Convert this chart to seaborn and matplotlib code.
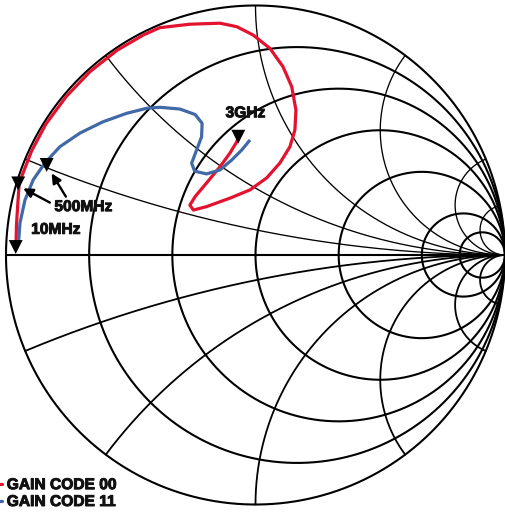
import numpy as np
import pandas as pd
import matplotlib
matplotlib.use("Agg")
import matplotlib.pyplot as plt
from matplotlib.lines import Line2D
import matplotlib.patheffects as pe
import seaborn as sns

# ---------------- data (reflection coefficient, real / imaginary) ----------------
R_VALUES = [0.2, 0.5, 1, 2, 5, 10]     # constant-resistance circles
X_VALUES = [0.2, 0.5, 1, 2, 5, 10]     # constant-reactance arcs

red_re = [-0.960, -0.958, -0.953, -0.947, -0.897, -0.840, -0.758, -0.662, -0.554,
          -0.449, -0.384, -0.263, -0.142, -0.075, -0.010, 0.058, 0.110, 0.145,
          0.162, 0.158, 0.138, 0.098, 0.045, -0.022, -0.102, -0.196, -0.249,
          -0.263, -0.242, -0.196, -0.142, -0.102, -0.075, -0.068]
red_im = [0.030, 0.120, 0.200, 0.289, 0.418, 0.525, 0.636, 0.736, 0.821,
          0.882, 0.911, 0.925, 0.929, 0.915, 0.882, 0.828, 0.755, 0.675,
          0.581, 0.501, 0.434, 0.369, 0.309, 0.261, 0.228, 0.194, 0.180,
          0.200, 0.234, 0.289, 0.354, 0.409, 0.454, 0.475]

blue_re = [-0.950, -0.944, -0.924, -0.891, -0.844, -0.784, -0.703, -0.611, -0.516,
           -0.436, -0.383, -0.303, -0.242, -0.214, -0.216, -0.236, -0.256, -0.244,
           -0.196, -0.142, -0.095, -0.055, -0.022]
blue_im = [0.045, 0.128, 0.220, 0.301, 0.369, 0.434, 0.489, 0.534, 0.568,
           0.588, 0.592, 0.585, 0.563, 0.528, 0.474, 0.421, 0.368, 0.336,
           0.325, 0.341, 0.381, 0.421, 0.461]

marker_re = [-0.961, -0.951, -0.837, -0.069]
marker_im = [0.032, 0.287, 0.361, 0.474]

series_labels = ["GAIN CODE 00", "GAIN CODE 11"]
RED = "#e3122f"
BLUE = "#4169a8"

# annotation labels
freq_labels = ["500MHz", "10MHz", "3GHz"]
freq_label_re = [-0.806, -0.899, -0.120]
freq_label_im = [0.194, 0.103, 0.570]
arrow_tail_re = [-0.824, -0.760]
arrow_tail_im = [0.210, 0.234]
arrow_tip_re = [-0.931, -0.817]
arrow_tip_im = [0.267, 0.327]

# ---------------- figure ----------------
sns.set_style("white")
plt.rcParams["font.family"] = ["Liberation Sans", "DejaVu Sans"]

fig = plt.figure(figsize=(5.06, 5.12), dpi=100)
ax = fig.add_axes([0, 0, 1, 1])

GRID = "black"
theta = np.linspace(0, 2 * np.pi, 1500)
# outer circle
ax.plot(np.cos(theta), np.sin(theta), color=GRID, lw=1.5, zorder=1)
# real axis
ax.plot([-1, 1], [0, 0], color=GRID, lw=1.5, zorder=1)
# resistance circles
for r in R_VALUES:
    c, rad = r / (1 + r), 1 / (1 + r)
    ax.plot(c + rad * np.cos(theta), rad * np.sin(theta), color=GRID, lw=1.5, zorder=1)
# reactance arcs
rr = np.concatenate([[0.0], np.geomspace(1e-4, 1e5, 3000)])
for x in X_VALUES:
    for sgn, lw in ((1, 0.95), (-1, 1.3)):
        z = rr + 1j * sgn * x
        g = (z - 1) / (z + 1)
        ax.plot(g.real, g.imag, color=GRID, lw=lw, zorder=1)

# data curves
df = pd.concat([
    pd.DataFrame({"re": red_re, "im": red_im, "code": series_labels[0]}),
    pd.DataFrame({"re": blue_re, "im": blue_im, "code": series_labels[1]}),
], ignore_index=True)
sns.lineplot(data=df, x="re", y="im", hue="code", sort=False, estimator=None,
             palette={series_labels[0]: RED, series_labels[1]: BLUE},
             lw=2.3, legend=False, ax=ax, zorder=3,
             solid_capstyle="butt", solid_joinstyle="round")

# frequency markers
sns.scatterplot(x=marker_re, y=marker_im, marker="v", s=10 ** 2, color="black",
                edgecolor="none", ax=ax, zorder=5, legend=False)

# arrows
for tx, ty, hx, hy in zip(arrow_tail_re, arrow_tail_im, arrow_tip_re, arrow_tip_im):
    ax.annotate("", xy=(hx, hy), xytext=(tx, ty),
                arrowprops=dict(arrowstyle="-|>", color="black", lw=1.7,
                                mutation_scale=14, shrinkA=0, shrinkB=0),
                zorder=6)

bold_fx = [pe.withStroke(linewidth=0.7, foreground="#111111")]
# labels
for lab, lx, ly in zip(freq_labels, freq_label_re, freq_label_im):
    ax.text(lx, ly, lab, ha="left", va="center", fontsize=11.2,
            fontweight="bold", color="#111111", zorder=6, path_effects=bold_fx)

# legend
handles = [Line2D([0], [0], color=RED, lw=2.3), Line2D([0], [0], color=BLUE, lw=2.3)]
leg = ax.legend(handles, series_labels, loc="lower left",
                bbox_to_anchor=(-29 / 506, 3 / 512), frameon=False,
                handlelength=2.0, handletextpad=0.3, borderpad=0, borderaxespad=0,
                labelspacing=0.12,
                prop={"family": "Liberation Sans", "weight": "bold", "size": 11.2})
for t in leg.get_texts():
    t.set_color("#111111")
    t.set_path_effects(bold_fx)

ax.set_xlim(-1.024, 1.004)
ax.set_ylim(-1.030, 1.022)
ax.axis("off")

fig.savefig("out.png", dpi=100)
